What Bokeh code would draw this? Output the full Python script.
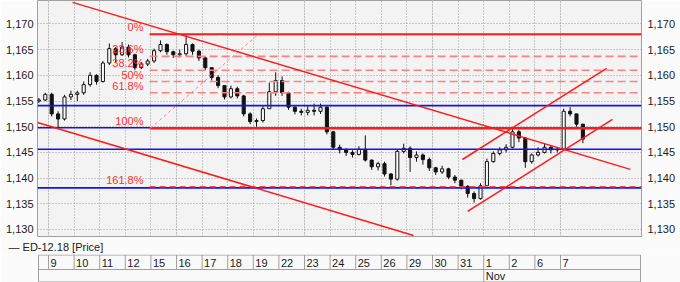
from bokeh.plotting import figure
from bokeh.models import (Range1d, LinearAxis, FixedTicker, Grid, Label, Title,
                          CustomJSTickFormatter, ColumnDataSource)
from bokeh.layouts import column
from bokeh.embed import file_html
from bokeh.resources import INLINE
from bokeh.core.properties import value

FONT = "Liberation Sans"

# ---------------- data ----------------
day_labels = ["9", "10", "11", "12", "15", "16", "17", "18", "19", "22", "23",
              "24", "25", "26", "29", "30", "31", "1", "2", "6", "7"]
month_label = "Nov"
month_start_day = 17          # index of "1" (Nov 1)
series_name = "ED-12.18 [Price]"

y_ticks = [1.130, 1.135, 1.140, 1.145, 1.150, 1.155, 1.160, 1.165, 1.170]

first_open = 1.1550
bars_per_day = 4
first_bar_pos = -0.5          # bars start half way through the day before "9"

close = [1.1552, 1.1563,
         1.1525, 1.1515, 1.1558, 1.1563,
         1.1566, 1.1582, 1.1600, 1.1588,
         1.1624, 1.1652, 1.1640, 1.1655,
         1.1640, 1.1615, 1.1622, 1.1628,
         1.1648, 1.1660, 1.1646, 1.1640,
         1.1642, 1.1660, 1.1647, 1.1634,
         1.1615, 1.1596, 1.1580, 1.1558,
         1.1574, 1.1560, 1.1525, 1.1510,
         1.1512, 1.1535, 1.1568, 1.1590,
         1.1566, 1.1538, 1.1530, 1.1528,
         1.1532, 1.1530, 1.1538, 1.1490,
         1.1460, 1.1455, 1.1450, 1.1446,
         1.1456, 1.1435, 1.1422, 1.1428,
         1.1408, 1.1398, 1.1452, 1.1458,
         1.1440, 1.1445, 1.1436, 1.1420,
         1.1412, 1.1418, 1.1402, 1.1396,
         1.1384, 1.1370, 1.1360, 1.1385,
         1.1432, 1.1448, 1.1455, 1.1460,
         1.1490, 1.1478, 1.1432, 1.1445,
         1.1450, 1.1460, 1.1455, 1.1456,
         1.1530, 1.1525, 1.1505, 1.1476]
high = [1.1556, 1.1566,
        1.1566, 1.1530, 1.1562, 1.1570,
        1.1570, 1.1588, 1.1606, 1.1602,
        1.1628, 1.1662, 1.1655, 1.1665,
        1.1660, 1.1642, 1.1626, 1.1632,
        1.1652, 1.1668, 1.1662, 1.1648,
        1.1650, 1.1678, 1.1662, 1.1650,
        1.1636, 1.1615, 1.1600, 1.1580,
        1.1580, 1.1578, 1.1562, 1.1528,
        1.1516, 1.1540, 1.1586, 1.1606,
        1.1598, 1.1568, 1.1540, 1.1535,
        1.1540, 1.1545, 1.1545, 1.1540,
        1.1492, 1.1465, 1.1458, 1.1454,
        1.1462, 1.1483, 1.1436, 1.1432,
        1.1432, 1.1410, 1.1456, 1.1467,
        1.1462, 1.1452, 1.1448, 1.1440,
        1.1422, 1.1424, 1.1420, 1.1406,
        1.1396, 1.1386, 1.1374, 1.1390,
        1.1438, 1.1452, 1.1460, 1.1466,
        1.1498, 1.1494, 1.1480, 1.1448,
        1.1460, 1.1468, 1.1462, 1.1460,
        1.1535, 1.1538, 1.1525, 1.1505]
low = [1.1546, 1.1550,
       1.1520, 1.1498, 1.1512, 1.1552,
       1.1550, 1.1562, 1.1578, 1.1582,
       1.1586, 1.1620, 1.1625, 1.1638,
       1.1635, 1.1610, 1.1612, 1.1618,
       1.1624, 1.1645, 1.1640, 1.1634,
       1.1635, 1.1638, 1.1640, 1.1628,
       1.1610, 1.1590, 1.1575, 1.1553,
       1.1555, 1.1555, 1.1520, 1.1505,
       1.1500, 1.1508, 1.1535, 1.1560,
       1.1560, 1.1533, 1.1524, 1.1522,
       1.1522, 1.1522, 1.1525, 1.1485,
       1.1455, 1.1448, 1.1443, 1.1440,
       1.1444, 1.1432, 1.1416, 1.1415,
       1.1403, 1.1386, 1.1395, 1.1448,
       1.1412, 1.1432, 1.1426, 1.1414,
       1.1406, 1.1408, 1.1398, 1.1390,
       1.1378, 1.1362, 1.1352, 1.1358,
       1.1385, 1.1430, 1.1444, 1.1450,
       1.1458, 1.1470, 1.1420, 1.1428,
       1.1442, 1.1448, 1.1448, 1.1450,
       1.1455, 1.1520, 1.1500, 1.1468]

support_levels = [1.1541, 1.1498, 1.1456, 1.1381]
last_price = 1.1476

fib_names = ["0%", "23.6%", "38.2%", "50%", "61.8%", "100%", "161.8%"]
fib_values = [1.1680, 1.1637, 1.1610, 1.1588, 1.1566, 1.1497, 1.1383]
fib_start_day = 3.95
fib_diag_x = [3.98, 8.2]
fib_diag_y = [1.1497, 1.1680]

down_channel_x = [[0.94, 22.73], [-0.43, 14.26]]
down_channel_y = [[1.1742, 1.1417], [1.15083, 1.12883]]
up_channel_x = [[16.17, 21.80], [16.37, 22.03]]
up_channel_y = [[1.14362, 1.16134], [1.13350, 1.15141]]

# ---------------- layout constants ----------------
DAY_PX = 25.6
DAY0_PX = 48.0


def px_day(px):
    return (px - DAY0_PX) / DAY_PX


X0, X1 = px_day(37), px_day(641)
Y0, Y1 = 1.12863, 1.17457
RED = "#ff1a1a"
SALMON = "#ff8080"
BLUE = "#1212ee"
GRID = "#9a9a9a"
TXT = "#1a1a1a"
BORDER_BG = "#fbfbfb"
PLOT_BG = "#f3f3f3"

# ---------------- main chart ----------------
xr = Range1d(X0, X1)
p = figure(width=680, height=254, x_range=xr, y_range=Range1d(Y0, Y1),
           output_backend="svg", toolbar_location=None,
           x_axis_location=None, y_axis_location="left",
           min_border_left=37, min_border_right=39, min_border_top=0, min_border_bottom=18)
p.background_fill_color = PLOT_BG
p.border_fill_color = BORDER_BG
p.outline_line_color = "#a0a0a0"

fmt = CustomJSTickFormatter(code="return tick.toFixed(3).replace('.', ',');")
p.yaxis[0].ticker = FixedTicker(ticks=y_ticks)
rax = LinearAxis(ticker=FixedTicker(ticks=y_ticks))
p.add_layout(rax, "right")
for ax in [p.yaxis[0], rax]:
    ax.formatter = fmt
    ax.axis_line_color = None
    ax.major_tick_line_color = None
    ax.minor_tick_line_color = None
    ax.major_tick_out = 0
    ax.major_label_text_font = FONT
    ax.major_label_text_font_size = "11px"
    ax.major_label_text_color = TXT
p.yaxis[0].major_label_standoff = 4
rax.major_label_standoff = 6

p.ygrid.ticker = FixedTicker(ticks=y_ticks)
p.ygrid.grid_line_color = GRID
p.ygrid.grid_line_dash = "1 2"
vgrid = Grid(dimension=0, ticker=FixedTicker(ticks=list(range(len(day_labels)))),
             grid_line_color=GRID, grid_line_dash="1 2")
p.add_layout(vgrid)

# legend line under the chart, as a title panel shifted left of the frame
p.add_layout(Title(text="\u2014 " + series_name, align="left", offset=8 - 37, standoff=4,
                   text_font=FONT, text_font_size="11px", text_font_style="normal",
                   text_color=TXT), "below")

# candles
n = len(close)
xs = [first_bar_pos + (k + 0.5) / bars_per_day for k in range(n)]
opens = [first_open] + close[:-1]
hi = [max(h, o, c) for h, o, c in zip(high, opens, close)]
lo = [min(l, o, c) for l, o, c in zip(low, opens, close)]
up = [c >= o for o, c in zip(opens, close)]
src = ColumnDataSource(dict(
    x=xs, o=opens, c=close, h=hi, l=lo,
    top=[max(o, c) for o, c in zip(opens, close)],
    bot=[min(o, c) if abs(o - c) > 0.00005 else min(o, c) - 0.00004 for o, c in zip(opens, close)],
    fill=["#ffffff" if u else "#111111" for u in up]))
p.segment(x0="x", y0="l", x1="x", y1="h", source=src, line_color="#111111", line_width=1)
p.vbar(x="x", top="top", bottom="bot", width=0.48 / bars_per_day, source=src,
       fill_color="fill", line_color="#111111", line_width=1)

# support lines (blue)
for lv in support_levels:
    p.line([X0, X1], [lv, lv], line_color=BLUE, line_width=1.6)

# fibonacci levels
for name, v in zip(fib_names, fib_values):
    if name == "0%":
        p.line([fib_start_day, X1], [v, v], line_color=RED, line_width=2)
    elif name == "100%":
        p.line([fib_start_day, X1], [v, v], line_color=RED, line_width=2.4)
    elif name == "161.8%":
        p.line([fib_start_day, X1], [v, v], line_color="#ff4040", line_width=1.6, line_dash="6 4")
    else:
        p.line([fib_start_day, X1], [v, v], line_color=SALMON, line_width=1.6, line_dash="8 4")
p.line(fib_diag_x, fib_diag_y, line_color=SALMON, line_width=1, line_dash="3 3")
p.text(x=[px_day(143)] * len(fib_names), y=fib_values, text=fib_names,
       text_align="right", text_baseline="bottom", y_offset=-1,
       text_font=value(FONT), text_font_size="11px", text_color="#ff3030")

# channels / trend lines
p.multi_line(down_channel_x, down_channel_y, line_color=RED, line_width=1.5)
p.multi_line(up_channel_x, up_channel_y, line_color=RED, line_width=1.5)

# right side value tags
for lv in support_levels:
    p.add_layout(Label(x=X1, y=lv, x_offset=4, text=f"{lv:.4f}", text_align="left",
                       text_baseline="middle", text_font=FONT, text_font_size="11px",
                       text_color="#ffffff", background_fill_color=BLUE, padding=1))
p.add_layout(Label(x=X1, y=last_price, x_offset=4, text=f"{last_price:.4f}", text_align="left",
                   text_baseline="middle", text_font=FONT, text_font_size="11px",
                   text_color=TXT, background_fill_color="#ffffff", padding=1))

# ---------------- date strip (frame aligned with the chart frame) ----------------
q = figure(width=680, height=28, x_range=xr, y_range=Range1d(28, 0),
           output_backend="svg", toolbar_location=None,
           x_axis_location=None, y_axis_location=None,
           min_border_left=37, min_border_right=39, min_border_top=0, min_border_bottom=0)
q.background_fill_color = BORDER_BG
q.border_fill_color = BORDER_BG
q.outline_line_color = None
q.grid.visible = False

CELL_L, CELL_R = px_day(38), px_day(640)
q.quad(left=[CELL_L], right=[CELL_R], top=[0.5], bottom=[27.5], fill_color="#f9f9f9",
       line_color="#a0a0a0", line_width=1)
q.segment(x0=[CELL_L], y0=[15], x1=[CELL_R], y1=[15], line_color="#a0a0a0")
didx = list(range(len(day_labels)))
q.segment(x0=didx, y0=[0.5] * len(didx), x1=didx, y1=[15] * len(didx), line_color="#a0a0a0")
q.segment(x0=[month_start_day], y0=[15], x1=[month_start_day], y1=[27.5], line_color="#a0a0a0")
q.text(x=[i + 2 / DAY_PX for i in didx], y=[8] * len(didx), text=day_labels,
       text_baseline="middle", text_font=value(FONT), text_font_size="11px", text_color=TXT)
q.text(x=[month_start_day + 2 / DAY_PX], y=[21.5], text=[month_label],
       text_baseline="middle", text_font=value(FONT), text_font_size="11px", text_color=TXT)

layout = column(p, q, spacing=0)
open("out.html", "w").write(file_html(layout, INLINE))
